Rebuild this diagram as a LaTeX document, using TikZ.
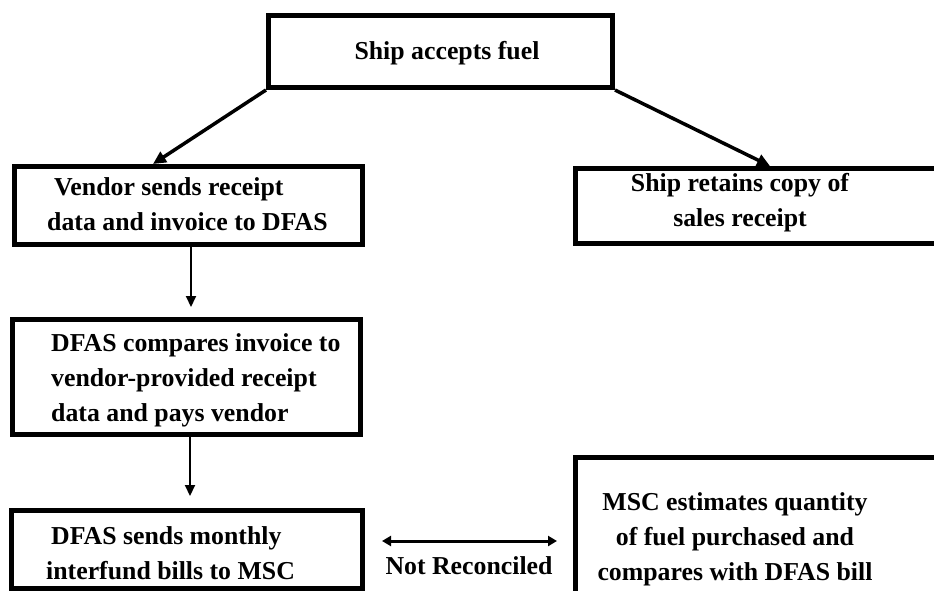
\documentclass[tikz,border=0pt]{standalone}
\usepackage{fontspec}
\setmainfont{Liberation Serif}
\usetikzlibrary{arrows.meta}
\tikzset{
  box/.style={draw, line width=5pt, inner sep=0pt},
  txt/.style={font=\bfseries\fontsize{25.8}{35}\selectfont, inner sep=0pt},
  arr/.style={line width=2pt, -{Triangle[width=10pt,length=11pt]}},
  diag/.style={line width=3.5pt, -{Triangle[width=12pt,length=13pt]}},
  dblarr/.style={line width=3pt, {Triangle[width=10pt,length=9pt]}-{Triangle[width=10pt,length=9pt]}}
}
\begin{document}
\begin{tikzpicture}[x=1pt,y=-1pt]
\useasboundingbox (0,0) rectangle (934,590);
% boxes
\node[box, minimum width=344pt, minimum height=72pt] (top) at (440.5,51.5) {};
\node[box, minimum width=348pt, minimum height=78pt] (vendor) at (188.5,205.5) {};
\node[box, minimum width=385pt, minimum height=75pt] (ship) at (768,206) {};
\node[box, minimum width=348pt, minimum height=115pt] (compares) at (186.5,377) {};
\node[box, minimum width=351pt, minimum height=78pt] (sends) at (187,549.5) {};
\node[box, minimum width=385pt, minimum height=165pt] (msc) at (768,540) {};
% texts
\node[txt] (topT) at (447,53) {Ship accepts fuel};
\node[txt, align=left, anchor=west] (vendorT) at (47,204) {\hspace*{7pt}Vendor sends receipt\\data and invoice to DFAS};
\node[txt, align=center] (shipT) at (740,203) {Ship retains copy of\\sales receipt};
\node[txt, align=left, anchor=west] (comparesT) at (51,380) {DFAS compares invoice to\\vendor-provided receipt\\data and pays vendor};
\node[txt, align=left, anchor=west] (sendsT) at (46,553) {\hspace*{5pt}DFAS sends monthly\\interfund bills to MSC};
\node[txt, align=center] (mscT) at (735,539) {MSC estimates quantity\\of fuel purchased and\\compares with DFAS bill};
% connectors
\draw[diag] (top.south west) -- (vendor.north -| 153,0);
\draw[diag] (top.south east) -- (ship.north -| 770,0);
\draw[arr, shorten >=10pt] (vendor.south -| 191,0) -- (compares.north -| 191,0);
\draw[arr, shorten >=12pt] (compares.south -| 190,0) -- (sends.north -| 190,0);
\draw[dblarr, shorten <=17pt, shorten >=16pt] (sends.east |- 0,541) -- (msc.west |- 0,541)
  node[txt, midway, below=14pt] (notrec) {Not Reconciled};
\end{tikzpicture}
\end{document}
